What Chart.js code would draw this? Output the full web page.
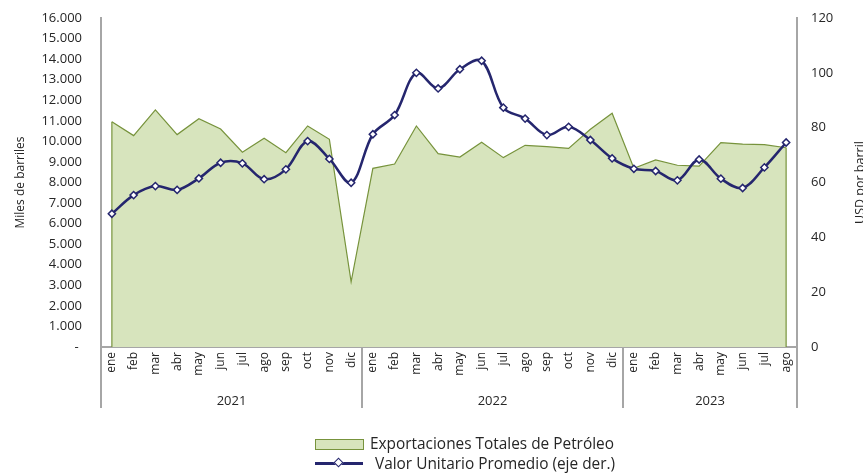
<!DOCTYPE html>
<html>
<head>
<meta charset="utf-8">
<script src="https://cdn.jsdelivr.net/npm/chart.js@4"></script>
<style>
  html, body { margin: 0; padding: 0; background: #fff; }
  #wrap { position: relative; width: 863px; height: 473px; }
  #legend { position: absolute; left: 315px; top: 434px; font-family: "Open Sans", sans-serif; font-size: 15.4px; line-height: 20px; color: #262626; }
  .row { position: relative; height: 20px; white-space: nowrap; }
  .box { position: absolute; left: 0; top: 5px; width: 47px; height: 9px; background: #D7E4BD; border: 1px solid #77933C; }
  .ln { position: absolute; left: 0; top: 8px; width: 48px; height: 2.5px; background: #25266E; }
  .dm { position: absolute; left: 20px; top: 5px; width: 5px; height: 5px; background: #fff; border: 1.5px solid #25266E; transform: rotate(45deg); }
  .t1 { position: absolute; left: 55px; top: 0px; }
  .t2 { position: absolute; left: 60px; top: 0px; }
</style>
</head>
<body>
<div id="wrap">
  <canvas id="c" width="863" height="473"></canvas>
  <div id="legend">
    <div class="row"><span class="box"></span><span class="t1">Exportaciones Totales de Petróleo</span></div>
    <div class="row"><span class="ln"></span><span class="dm"></span><span class="t2">Valor Unitario Promedio (eje der.)</span></div>
  </div>
</div>
<script>
const months = ['ene','feb','mar','abr','may','jun','jul','ago','sep','oct','nov','dic',
                'ene','feb','mar','abr','may','jun','jul','ago','sep','oct','nov','dic',
                'ene','feb','mar','abr','may','jun','jul','ago'];
const periodYears = ['2021','2021','2021','2021','2021','2021','2021','2021','2021','2021','2021','2021',
                     '2022','2022','2022','2022','2022','2022','2022','2022','2022','2022','2022','2022',
                     '2023','2023','2023','2023','2023','2023','2023','2023'];
const exportaciones = [10950,10280,11530,10330,11100,10600,9470,10150,9450,10750,10100,3170,
                       8690,8900,10750,9400,9240,9960,9210,9810,9740,9660,10590,11370,
                       8690,9100,8840,8800,9940,9870,9840,9690];
const valorUnitario = [48.6,55.4,58.7,57.3,61.5,67.2,67.0,61.2,64.8,75.1,68.6,59.9,
                       77.6,84.6,100.0,94.3,101.3,104.4,87.3,83.3,77.3,80.3,75.5,68.8,
                       65.0,64.2,60.8,68.4,61.4,58.0,65.5,74.6];
const leftTitle = 'Miles de barriles';
const rightTitle = 'USD por barril';
const seriesNames = ['Exportaciones Totales de Petróleo', 'Valor Unitario Promedio (eje der.)'];

const FONT = '"Open Sans", sans-serif';
const TXT = '#262626';
const AXIS = '#A6A6A6';
const GREEN_FILL = '#D7E4BD';
const GREEN_LINE = '#77933C';
const NAVY = '#25266E';

function fmtThousands(v) {
  if (v === 0) return '- ';
  return String(v).replace(/\B(?=(\d{3})+(?!\d))/g, '.');
}

const decorPlugin = {
  id: 'decor',
  afterDatasetDraw(chart, args) {
    if (args.index !== 1) return;
    const meta = chart.getDatasetMeta(1);
    const pts = meta.data;
    const ctx = chart.ctx;
    const bottom = chart.chartArea.bottom;
    ctx.save();
    ctx.strokeStyle = GREEN_LINE;
    ctx.lineWidth = 1.2;
    [pts[0], pts[pts.length - 1]].forEach(p => {
      ctx.beginPath();
      ctx.moveTo(p.x, p.y);
      ctx.lineTo(p.x, bottom);
      ctx.stroke();
    });
    ctx.restore();
  },
  afterDraw(chart) {
    const ctx = chart.ctx;
    const x = chart.scales.x;
    const area = chart.chartArea;
    const half = (x.getPixelForValue(1) - x.getPixelForValue(0)) / 2;
    const sepBottom = 408;
    const groups = [];
    let start = 0;
    for (let i = 1; i <= periodYears.length; i++) {
      if (i === periodYears.length || periodYears[i] !== periodYears[start]) {
        groups.push({ year: periodYears[start], s: start, e: i - 1 });
        start = i;
      }
    }
    ctx.save();
    ctx.strokeStyle = AXIS;
    ctx.lineWidth = 2;
    const bounds = [x.getPixelForValue(0) - half];
    groups.forEach(g => bounds.push(x.getPixelForValue(g.e) + half));
    bounds.forEach(b => {
      ctx.beginPath();
      ctx.moveTo(b, area.bottom);
      ctx.lineTo(b, sepBottom);
      ctx.stroke();
    });
    ctx.fillStyle = TXT;
    ctx.font = '13px ' + FONT;
    ctx.textAlign = 'center';
    ctx.textBaseline = 'middle';
    groups.forEach(g => {
      const cx = (x.getPixelForValue(g.s) - half + x.getPixelForValue(g.e) + half) / 2;
      ctx.fillText(g.year, cx, 401);
    });
    ctx.font = '12.5px ' + FONT;
    ctx.translate(860, (area.top + area.bottom) / 2);
    ctx.rotate(-Math.PI / 2);
    ctx.fillText(rightTitle, 0, 0);
    ctx.restore();
  }
};

new Chart(document.getElementById('c'), {
  type: 'line',
  data: {
    labels: months,
    datasets: [
      {
        label: seriesNames[1],
        data: valorUnitario,
        yAxisID: 'y1',
        borderColor: NAVY,
        borderWidth: 2.5,
        tension: 0.35,
        fill: false,
        pointStyle: 'rectRot',
        pointRadius: 3.6,
        pointBorderWidth: 1.5,
        pointBackgroundColor: '#ffffff',
        pointBorderColor: NAVY,
        order: 0
      },
      {
        label: seriesNames[0],
        data: exportaciones,
        yAxisID: 'y',
        borderColor: GREEN_LINE,
        borderWidth: 1.2,
        backgroundColor: GREEN_FILL,
        fill: 'origin',
        tension: 0,
        pointRadius: 0,
        order: 1
      }
    ]
  },
  options: {
    responsive: false,
    animation: false,
    layout: { padding: { top: 18, right: 0, bottom: 0, left: 0 } },
    plugins: {
      legend: { display: false },
      tooltip: { enabled: false }
    },
    scales: {
      x: {
        type: 'category',
        offset: true,
        grid: { display: false, drawTicks: false },
        border: { display: true, color: AXIS, width: 2 },
        ticks: {
          autoSkip: false, minRotation: 90, maxRotation: 90, padding: 5,
          color: TXT, font: { family: FONT, size: 12 }
        },
        afterFit(s) { s.height = 126; }
      },
      y: {
        position: 'left',
        min: 0, max: 16000,
        grid: { display: false, drawTicks: true, tickLength: 16 },
        border: { display: true, color: AXIS, width: 2 },
        ticks: {
          stepSize: 1000, padding: 3, color: TXT, font: { family: FONT, size: 13 },
          callback: v => fmtThousands(v)
        },
        title: {
          display: true, text: leftTitle, color: TXT,
          font: { family: FONT, size: 12 }, padding: { top: 13, bottom: 0 }
        },
        afterFit(s) { s.width = 101; }
      },
      y1: {
        position: 'right',
        min: 0, max: 120,
        grid: { display: false, drawTicks: true, tickLength: 11 },
        border: { display: true, color: AXIS, width: 2 },
        ticks: { stepSize: 20, padding: 3, color: TXT, font: { family: FONT, size: 13 } },
        afterFit(s) { s.width = 66; }
      }
    }
  },
  plugins: [decorPlugin]
});
</script>
</body>
</html>
